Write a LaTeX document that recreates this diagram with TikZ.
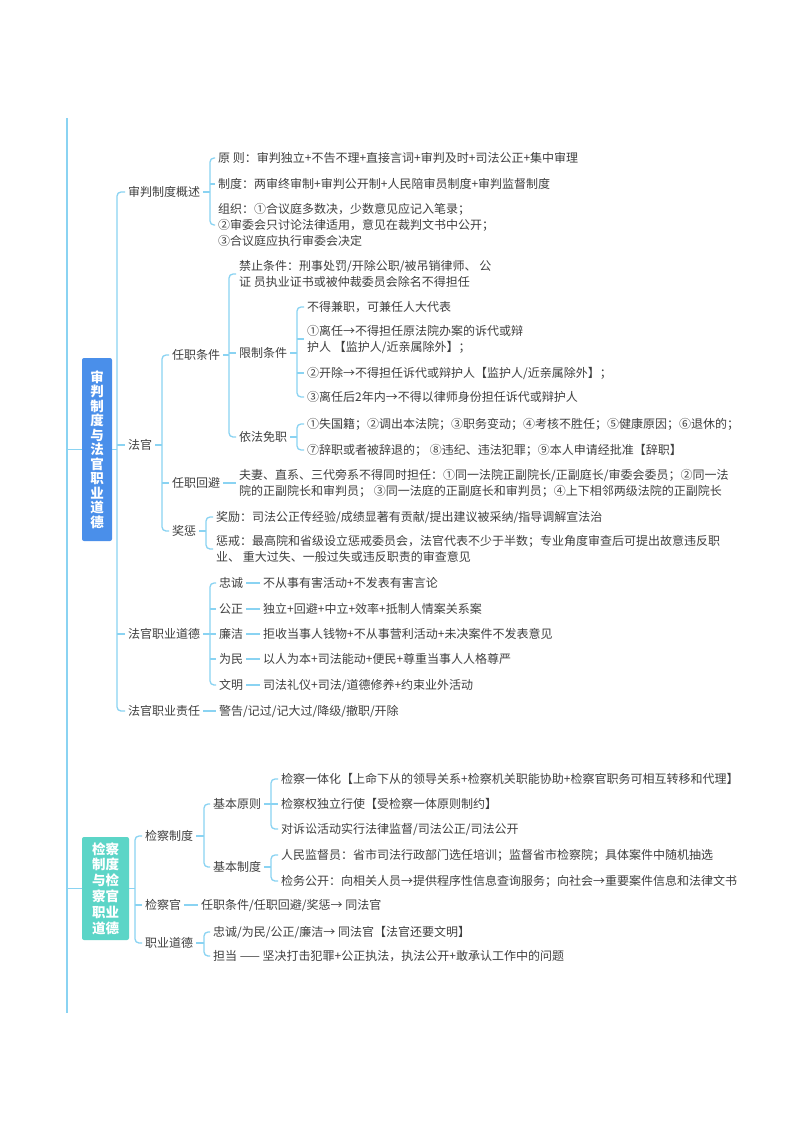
\documentclass[tikz,border=0pt]{standalone}
\usepackage{fontspec}
\setmainfont{Noto Sans CJK SC}
\definecolor{lineblue}{HTML}{8AD3F2}
\definecolor{txt}{HTML}{404040}
\definecolor{rootblue}{HTML}{4A8FEA}
\definecolor{rootteal}{HTML}{5CD5C7}
\tikzset{
  conn/.style={draw=lineblue, line width=1.3pt},
  brk/.style={conn, rounded corners=4pt},
  t/.style={anchor=west, inner xsep=3pt, inner ysep=0pt, text=txt,
            font=\fontsize{12}{16}\selectfont, align=left},
  rootbox/.style={rectangle, rounded corners=2pt, text=white, align=center,
            inner sep=0pt, font=\fontsize{13.5}{14.5}\selectfont\bfseries},
}
\begin{document}
\begin{tikzpicture}[x=1pt,y=-1pt]
\useasboundingbox[fill=white] (0,0) rectangle (800,1132);

% main spine
\coordinate (spTop) at (67,118);
\coordinate (spBot) at (67,1013);
\draw[conn, line width=1.6pt] (spTop) -- (spBot);

% ---------- root 1 ----------
\node[rootbox, fill=rootblue, minimum width=30pt, minimum height=183pt] (R1) at (97,449.5)
  {审\\判\\制\\度\\与\\法\\官\\职\\业\\道\\德};
\draw[conn] (R1.west -| spTop) -- (R1.west);

\node[t] (A1) at (125,192) {审判制度概述};
\node[t] (A2) at (125,445) {法官};
\node[t] (A3) at (125,634) {法官职业道德};
\node[t] (A4) at (125,711) {法官职业责任};
\coordinate (bR1) at (117,0);
\draw[conn] (R1.east) -- (R1.east -| bR1);
\draw[brk] (A1.west) -- (A1.west -| bR1) -- (A4.west -| bR1) -- (A4.west);
\draw[conn] (A2.west -| bR1) -- (A2.west);
\draw[conn] (A3.west -| bR1) -- (A3.west);

% 审判制度概述
\node[t] (A11) at (215,158) {原 则：审判独立+不告不理+直接言词+审判及时+司法公正+集中审理};
\node[t] (A12) at (215,184) {制度：两审终审制+审判公开制+人民陪审员制度+审判监督制度};
\node[t] (A13) at (215,225) {组织：①合议庭多数决，少数意见应记入笔录；\\②审委会只讨论法律适用，意见在裁判文书中公开；\\③合议庭应执行审委会决定};
\coordinate (bA1) at (210,0);
\draw[conn] (A1.east) -- (A1.east -| bA1);
\draw[brk] (A11.west) -- (A11.west -| bA1) -- (A13.west -| bA1) -- (A13.west);
\draw[conn] (A12.west -| bA1) -- (A12.west);

% 法官
\node[t] (A21) at (169,355) {任职条件};
\node[t] (A22) at (169,483) {任职回避};
\node[t] (A23) at (169,531) {奖惩};
\coordinate (bA2) at (162,0);
\draw[conn] (A2.east) -- (A2.east -| bA2);
\draw[brk] (A21.west) -- (A21.west -| bA2) -- (A23.west -| bA2) -- (A23.west);
\draw[conn] (A22.west -| bA2) -- (A22.west);

% 任职条件
\node[t] (A211) at (236,274) {禁止条件：刑事处罚/开除公职/被吊销律师、 公\\证 员执业证书或被仲裁委员会除名不得担任};
\node[t] (A212) at (236,353) {限制条件};
\node[t] (A213) at (236,437) {依法免职};
\coordinate (bA21) at (229,0);
\draw[conn] (A21.east) -- (A21.east -| bA21);
\draw[brk] (A211.west) -- (A211.west -| bA21) -- (A213.west -| bA21) -- (A213.west);
\draw[conn] (A212.west -| bA21) -- (A212.west);

% 限制条件
\node[t] (r1) at (304,307) {不得兼职，可兼任人大代表};
\node[t] (r2) at (304,339) {①离任→不得担任原法院办案的诉代或辩\\护人 【监护人/近亲属除外】；};
\node[t] (r3) at (304,373) {②开除→不得担任诉代或辩护人【监护人/近亲属除外】；};
\node[t] (r4) at (304,397) {③离任后2年内→不得以律师身份担任诉代或辩护人};
\coordinate (bA212) at (297,0);
\draw[conn] (A212.east) -- (A212.east -| bA212);
\draw[brk] (r1.west) -- (r1.west -| bA212) -- (r4.west -| bA212) -- (r4.west);
\draw[conn] (r2.west -| bA212) -- (r2.west);
\draw[conn] (r3.west -| bA212) -- (r3.west);

% 依法免职
\node[t] (m1) at (304,424) {①失国籍；②调出本法院；③职务变动；④考核不胜任；⑤健康原因；⑥退休的；};
\node[t] (m2) at (304,450) {⑦辞职或者被辞退的； ⑧违纪、违法犯罪；⑨本人申请经批准【辞职】};
\coordinate (bA213) at (297,0);
\draw[conn] (A213.east) -- (A213.east -| bA213);
\draw[brk] (m1.west) -- (m1.west -| bA213) -- (m2.west -| bA213) -- (m2.west);

% 任职回避
\node[t] (A221) at (236,483) {夫妻、直系、三代旁系不得同时担任：①同一法院正副院长/正副庭长/审委会委员；②同一法\\院的正副院长和审判员； ③同一法庭的正副庭长和审判员；④上下相邻两级法院的正副院长};
\draw[conn] (A22.east) -- (A221.west);

% 奖惩
\node[t] (j1) at (213,517) {奖励：司法公正传经验/成绩显著有贡献/提出建议被采纳/指导调解宣法治};
\node[t] (j2) at (213,549) {惩戒：最高院和省级设立惩戒委员会，法官代表不少于半数；专业角度审查后可提出故意违反职\\业、 重大过失、一般过失或违反职责的审查意见};
\coordinate (bA23) at (206,0);
\draw[conn] (A23.east) -- (A23.east -| bA23);
\draw[brk] (j1.west) -- (j1.west -| bA23) -- (j2.west -| bA23) -- (j2.west);

% 法官职业道德
\node[t] (e1) at (216,583) {忠诚};
\node[t] (e2) at (216,609) {公正};
\node[t] (e3) at (216,634) {廉洁};
\node[t] (e4) at (216,659) {为民};
\node[t] (e5) at (216,685) {文明};
\node[t] (e1t) at (260,583) {不从事有害活动+不发表有害言论};
\node[t] (e2t) at (260,609) {独立+回避+中立+效率+抵制人情案关系案};
\node[t] (e3t) at (260,634) {拒收当事人钱物+不从事营利活动+未决案件不发表意见};
\node[t] (e4t) at (260,659) {以人为本+司法能动+便民+尊重当事人人格尊严};
\node[t] (e5t) at (260,685) {司法礼仪+司法/道德修养+约束业外活动};
\coordinate (bA3) at (210,0);
\draw[conn] (A3.east) -- (A3.east -| bA3);
\draw[brk] (e1.west) -- (e1.west -| bA3) -- (e5.west -| bA3) -- (e5.west);
\draw[conn] (e2.west -| bA3) -- (e2.west);
\draw[conn] (e3.west -| bA3) -- (e3.west);
\draw[conn] (e4.west -| bA3) -- (e4.west);
\foreach \i in {1,...,5} { \draw[conn] (e\i.east) -- (e\i t.west); }

% 法官职业责任
\node[t] (A41) at (216,711) {警告/记过/记大过/降级/撤职/开除};
\draw[conn] (A4.east) -- (A41.west);

% ---------- root 2 ----------
\node[rootbox, fill=rootteal, minimum width=47pt, minimum height=103pt, font=\fontsize{13.5}{15.8}\selectfont\bfseries] (R2) at (105.5,888.5)
  {检察\\制度\\与检\\察官\\职业\\道德};
\draw[conn] (R2.west -| spTop) -- (R2.west);

\node[t] (B1) at (142,836) {检察制度};
\node[t] (B2) at (142,905) {检察官};
\node[t] (B3) at (142,943) {职业道德};
\coordinate (bR2) at (135,0);
\draw[conn] (R2.east) -- (R2.east -| bR2);
\draw[brk] (B1.west) -- (B1.west -| bR2) -- (B3.west -| bR2) -- (B3.west);
\draw[conn] (B2.west -| bR2) -- (B2.west);

% 检察制度
\node[t] (B11) at (210,804) {基本原则};
\node[t] (B12) at (210,867) {基本制度};
\coordinate (bB1) at (204,0);
\draw[conn] (B1.east) -- (B1.east -| bB1);
\draw[brk] (B11.west) -- (B11.west -| bB1) -- (B12.west -| bB1) -- (B12.west);

% 基本原则
\node[t] (p1) at (278,779) {检察一体化【上命下从的领导关系+检察机关职能协助+检察官职务可相互转移和代理】};
\node[t] (p2) at (278,804) {检察权独立行使【受检察一体原则制约】};
\node[t] (p3) at (278,829) {对诉讼活动实行法律监督/司法公正/司法公开};
\coordinate (bB11) at (271,0);
\draw[conn] (B11.east) -- (B11.east -| bB11);
\draw[brk] (p1.west) -- (p1.west -| bB11) -- (p3.west -| bB11) -- (p3.west);
\draw[conn] (p2.west -| bB11) -- (p2.west);

% 基本制度
\node[t] (s1) at (278,855) {人民监督员：省市司法行政部门选任培训；监督省市检察院；具体案件中随机抽选};
\node[t] (s2) at (278,881) {检务公开：向相关人员→提供程序性信息查询服务；向社会→重要案件信息和法律文书};
\coordinate (bB12) at (271,0);
\draw[conn] (B12.east) -- (B12.east -| bB12);
\draw[brk] (s1.west) -- (s1.west -| bB12) -- (s2.west -| bB12) -- (s2.west);

% 检察官
\node[t] (B21) at (198,905) {任职条件/任职回避/奖惩→ 同法官};
\draw[conn] (B2.east) -- (B21.west);

% 职业道德
\node[t] (B31) at (210,932) {忠诚/为民/公正/廉洁→ 同法官【法官还要文明】};
\node[t] (B32) at (210,956) {担当 —— 坚决打击犯罪+公正执法，执法公开+敢承认工作中的问题};
\coordinate (bB3) at (204,0);
\draw[conn] (B3.east) -- (B3.east -| bB3);
\draw[brk] (B31.west) -- (B31.west -| bB3) -- (B32.west -| bB3) -- (B32.west);
\end{tikzpicture}
\end{document}
